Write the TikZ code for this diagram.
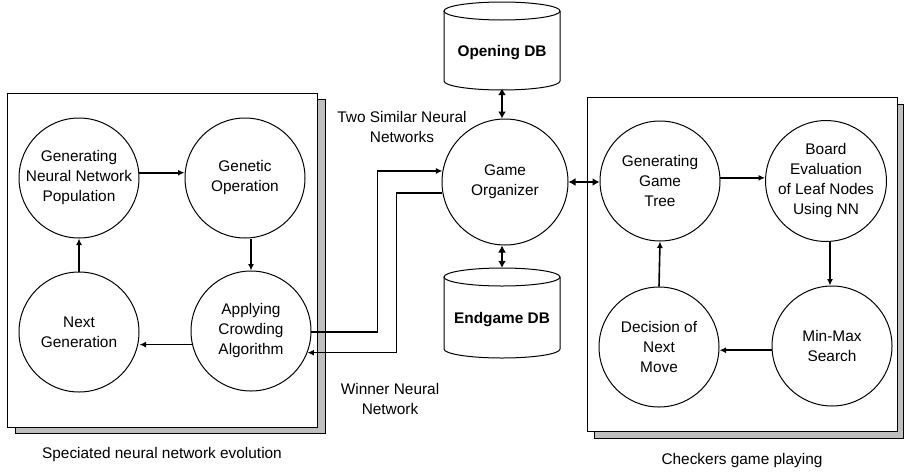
\documentclass[tikz,border=0pt]{standalone}
\usepackage{fontspec}
\setmainfont{Liberation Sans}
\usetikzlibrary{arrows.meta,calc}
\begin{document}
\begin{tikzpicture}[x=1pt,y=-1pt,
  every node/.style={font=\fontsize{15.4}{20}\selectfont, align=center, inner sep=0pt},
  proc/.style={circle, draw, line width=1pt, minimum size=120pt, fill=white},
  conn/.style={line width=1.6pt, -{Latex[length=6.5pt,width=6pt]}},
  thinconn/.style={line width=1.2pt, -{Latex[length=6.5pt,width=6pt]}},
  dbl/.style={line width=2pt, {Latex[length=7pt,width=8pt]}-{Latex[length=7pt,width=8pt]}},
  frontbox/.style={draw, line width=1pt, fill=white},
  shadowbox/.style={draw, line width=1pt, fill=black!25},
  cyl/.style={draw, line width=1pt, fill=white},
  lbltext/.style={font=\fontsize{15.4}{20}\selectfont}
]
\useasboundingbox (0,0) rectangle (904,474);

% left panel
\draw[shadowbox] (15,99) rectangle (325,433);
\draw[frontbox] (7,93) rectangle (317,427);
% right panel
\draw[shadowbox] (594,104) rectangle (903,438);
\draw[frontbox] (587,97) rectangle (897,431);

% left circles
\node[proc] (gnnp) at (79,178) {Generating\\Neural Network\\Population};
\node[proc] (genop) at (245,178) {Genetic\\Operation};
\node[proc] (nextgen) at (79,332) {Next\\Generation};
\node[proc] (crowd) at (251,331) {Applying\\Crowding\\Algorithm};

% right circles
\node[proc] (ggt) at (660,181) {Generating\\Game\\Tree};
\node[proc] (beval) at (826,181) {Board\\Evaluation\\of Leaf Nodes\\Using NN};
\node[proc] (decision) at (659,347) {Decision of\\Next\\Move};
\node[proc] (minmax) at (832,346) {Min-Max\\Search};

% game organizer
\node[proc, minimum size=126pt] (go) at (505,182) {Game\\Organizer};

% cylinders
\draw[cyl] (444,11) -- (444,81) arc[start angle=180, end angle=0, x radius=58, y radius=9] -- (560,11);
\draw[cyl] (502,11) ellipse [x radius=58, y radius=9];
\node[minimum width=116pt, minimum height=74pt, font=\fontsize{15.4}{20}\selectfont\bfseries] (odb) at (502,53) {Opening DB};

\draw[cyl] (444,277) -- (444,349) arc[start angle=180, end angle=0, x radius=58, y radius=9] -- (560,277);
\draw[cyl] (502,277) ellipse [x radius=58, y radius=9];
\node[minimum width=116pt, minimum height=104pt, font=\fontsize{15.4}{20}\selectfont\bfseries] (edb) at (502,320) {Endgame DB};

% left cycle arrows
\draw[conn] (gnnp.5) -- (gnnp.5 -| genop.west);
\draw[conn] (genop.south -| crowd.north) -- (crowd.north);
\draw[conn] (crowd.193.7) -- (crowd.193.7 -| nextgen.east);
\draw[conn] (nextgen.north) -- (gnnp.south);

% right cycle arrows
\draw[conn] (ggt.3.5) -- (ggt.3.5 -| beval.west);
\draw[conn] (beval.south -| 830,0) -- (minmax.north -| 830,0);
\draw[conn] (minmax.184) -- (minmax.184 -| decision.east);
\draw[conn] (decision.north) -- (ggt.south);

% database links
\draw[dbl] ([yshift=2pt]odb.south) -- (odb.south |- go.north);
\draw[dbl] (edb.north |- go.south) -- (edb.north);
\draw[dbl] (go.east) -- (go.east -| ggt.west);

% crowding <-> game organizer
\draw[thinconn] (crowd.-1) -- ++(66,0) |- (go.170.9);
\draw[thinconn] (go.190) -- ++(-46,0) |- (crowd.-21.7);

% labels
\node[lbltext] (lbltwo) at (402,127) {Two Similar Neural\\Networks};
\node[lbltext] (lblwin) at (390,399) {Winner Neural\\Network};
\node[lbltext] (capleft) at (162,455) {Speciated neural network evolution};
\node[lbltext] (capright) at (742,461) {Checkers game playing};
\end{tikzpicture}
\end{document}
